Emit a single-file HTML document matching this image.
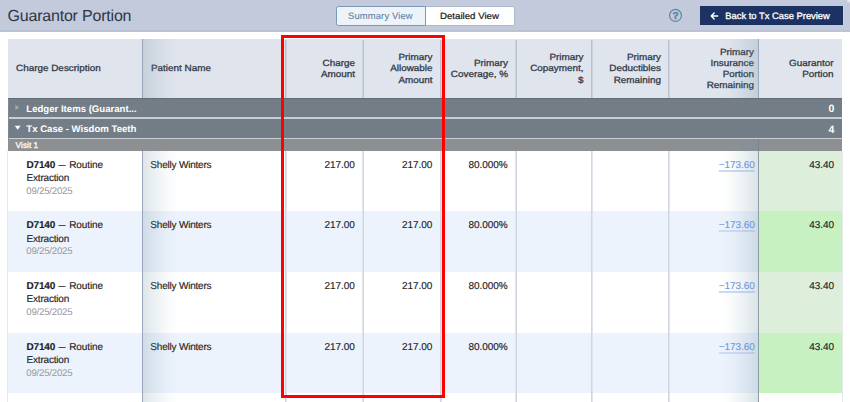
<!DOCTYPE html>
<html><head><meta charset="utf-8">
<style>
*{box-sizing:border-box;margin:0;padding:0}
html,body{width:850px;height:402px;overflow:hidden;background:#fff}
body{position:relative;font-family:"Liberation Sans",Arial,sans-serif;color:#222;text-rendering:geometricPrecision}
.a{position:absolute}
.t{position:absolute;white-space:nowrap;line-height:1}
.ht{position:absolute;font-size:9px;-webkit-text-stroke:0.28px #323a48;color:#323a48;line-height:11.3px;text-align:right;white-space:nowrap;transform:scaleX(1.1);transform-origin:right top}
.hl{text-align:left;transform-origin:left top}
.gt{font-size:9.6px;font-weight:bold;color:#fff}
.d{font-size:10px;letter-spacing:-0.2px;color:#1e1e1e;-webkit-text-stroke:0.15px #1e1e1e}
.dt{font-size:9.6px;letter-spacing:-0.2px;color:#97979b}
.n{position:absolute;font-size:10px;letter-spacing:-0.05px;color:#1e1e1e;-webkit-text-stroke:0.15px #1e1e1e;text-align:right;white-space:nowrap;line-height:1}
.lk{color:#6f95e4;-webkit-text-stroke:0.1px #6f95e4;text-decoration:underline;text-decoration-color:#cfdbf5;text-decoration-thickness:1.5px;text-underline-offset:2px}
</style></head><body>
<div class="a" style="left:0;top:0;width:850px;height:31.6px;background:linear-gradient(to bottom,#c2cadb 0,#c2cadb 29.6px,#b8c2d3 30.4px,#bcc5d6 31.6px)"></div>
<div class="t" style="left:7.5px;top:8.8px;font-size:16px;letter-spacing:-0.2px;color:#2e3646">Guarantor Portion</div>
<div class="a" style="left:336px;top:6px;width:89.5px;height:19.5px;background:#eef3fa;border:1px solid #7b99b4;border-radius:2.5px 0 0 2.5px"></div>
<div class="a" style="left:425.5px;top:6px;width:89px;height:19.5px;background:#fff;border:1px solid #adbacb;border-left:none;border-radius:0 2.5px 2.5px 0"></div>
<div class="t" style="left:348px;top:10.9px;font-size:9.4px;letter-spacing:0.16px;color:#5f84a5;-webkit-text-stroke:0.12px #5f84a5">Summary View</div>
<div class="t" style="left:439.8px;top:12.3px;font-size:9px;-webkit-text-stroke:0.22px #222;color:#222;transform:scaleX(1.075);transform-origin:left top">Detailed View</div>
<svg class="a" style="left:668px;top:8px" width="15" height="15" viewBox="0 0 15 15"><circle cx="7.5" cy="7.4" r="5.95" fill="none" stroke="#6489a8" stroke-width="1.3"/><text x="7.5" y="11.2" text-anchor="middle" font-family="Liberation Sans, sans-serif" font-weight="bold" font-size="10" fill="#5f86a6" stroke="#5f86a6" stroke-width="0.45">?</text></svg>
<div class="a" style="left:699.5px;top:6px;width:143px;height:19px;background:#1c3263"></div>
<svg class="a" style="left:709.8px;top:11.5px" width="9" height="8" viewBox="0 0 9 8"><path d="M4.1 1.1 L1.3 4 L4.1 6.9 M1.5 4 L7.6 4" stroke="#fff" stroke-width="1.5" fill="none" stroke-linecap="round" stroke-linejoin="round"/></svg>
<div class="t" style="left:725.3px;top:11px;font-size:9.4px;-webkit-text-stroke:0.3px #fff;color:#fff">Back to Tx Case Preview</div>
<div class="a" style="left:843px;top:6px;width:1.2px;height:19px;background:#cdd4e1"></div>
<div class="a" style="left:846px;top:-3px;width:7px;height:7px;border-radius:50%;background:radial-gradient(circle,rgba(255,255,255,0.8),rgba(255,255,255,0) 70%)"></div>
<div class="a" style="left:8px;top:39px;width:834px;height:59px;background:#e0e4ed"></div>
<div class="a" style="left:8px;top:150.6px;width:834px;height:60.8px;background:#fff"></div>
<div class="a" style="left:758.4px;top:150.6px;width:83.60000000000002px;height:60.8px;background:#ddefda"></div>
<div class="a" style="left:8px;top:211.3px;width:834px;height:60.8px;background:#edf3fd"></div>
<div class="a" style="left:758.4px;top:211.3px;width:83.60000000000002px;height:60.8px;background:#c8f1c2"></div>
<div class="a" style="left:8px;top:272.0px;width:834px;height:60.8px;background:#fff"></div>
<div class="a" style="left:758.4px;top:272.0px;width:83.60000000000002px;height:60.8px;background:#ddefda"></div>
<div class="a" style="left:8px;top:332.7px;width:834px;height:60.8px;background:#edf3fd"></div>
<div class="a" style="left:758.4px;top:332.7px;width:83.60000000000002px;height:60.8px;background:#c8f1c2"></div>
<div class="a" style="left:8px;top:393.4px;width:834px;height:8.600000000000023px;background:#fff"></div>
<div class="a" style="left:285px;top:40px;width:1px;height:57.599999999999994px;background:#b8c1d0"></div>
<div class="a" style="left:286px;top:40px;width:1px;height:57.599999999999994px;background:#cdd3de"></div>
<div class="a" style="left:285px;top:150.6px;width:1px;height:251.4px;background:#d1d7e2"></div>
<div class="a" style="left:286px;top:150.6px;width:1px;height:251.4px;background:#e0e4ec"></div>
<div class="a" style="left:363px;top:40px;width:1px;height:57.599999999999994px;background:#b8c1d0"></div>
<div class="a" style="left:362px;top:40px;width:1px;height:57.599999999999994px;background:#cdd3de"></div>
<div class="a" style="left:363px;top:150.6px;width:1px;height:251.4px;background:#d1d7e2"></div>
<div class="a" style="left:362px;top:150.6px;width:1px;height:251.4px;background:#e0e4ec"></div>
<div class="a" style="left:440px;top:40px;width:1px;height:57.599999999999994px;background:#b8c1d0"></div>
<div class="a" style="left:441px;top:40px;width:1px;height:57.599999999999994px;background:#cdd3de"></div>
<div class="a" style="left:440px;top:150.6px;width:1px;height:251.4px;background:#d1d7e2"></div>
<div class="a" style="left:441px;top:150.6px;width:1px;height:251.4px;background:#e0e4ec"></div>
<div class="a" style="left:516px;top:40px;width:1px;height:57.599999999999994px;background:#b8c1d0"></div>
<div class="a" style="left:515px;top:40px;width:1px;height:57.599999999999994px;background:#cdd3de"></div>
<div class="a" style="left:516px;top:150.6px;width:1px;height:251.4px;background:#d1d7e2"></div>
<div class="a" style="left:515px;top:150.6px;width:1px;height:251.4px;background:#e0e4ec"></div>
<div class="a" style="left:591px;top:40px;width:1px;height:57.599999999999994px;background:#b8c1d0"></div>
<div class="a" style="left:592px;top:40px;width:1px;height:57.599999999999994px;background:#cdd3de"></div>
<div class="a" style="left:591px;top:150.6px;width:1px;height:251.4px;background:#d1d7e2"></div>
<div class="a" style="left:592px;top:150.6px;width:1px;height:251.4px;background:#e0e4ec"></div>
<div class="a" style="left:668px;top:40px;width:1px;height:57.599999999999994px;background:#b8c1d0"></div>
<div class="a" style="left:669px;top:40px;width:1px;height:57.599999999999994px;background:#cdd3de"></div>
<div class="a" style="left:668px;top:150.6px;width:1px;height:251.4px;background:#d1d7e2"></div>
<div class="a" style="left:669px;top:150.6px;width:1px;height:251.4px;background:#e0e4ec"></div>
<div class="a" style="left:841.5px;top:150.6px;width:1px;height:252px;background:#e6e9f0"></div>
<div class="a" style="left:7px;top:150.6px;width:1px;height:252px;background:#e6e9ef"></div>
<div class="a" style="left:8px;top:97.6px;width:834px;height:1.2px;background:#646d76"></div>
<div class="a" style="left:8px;top:98.8px;width:834px;height:18.6px;background:#737d87"></div>
<div class="a" style="left:8px;top:117.4px;width:834px;height:1.6px;background:#c9ced4"></div>
<div class="a" style="left:8px;top:119px;width:834px;height:18.8px;background:#737d87"></div>
<div class="a" style="left:8px;top:137.8px;width:834px;height:1.5px;background:#c9ced4"></div>
<div class="a" style="left:8px;top:139.3px;width:834px;height:11.3px;background:#8d9093"></div>
<div class="a" style="left:8px;top:98.8px;width:1px;height:40.5px;background:#80898f"></div>
<div class="t gt" style="left:26.3px;top:104.5px">Ledger Items (Guarant...</div>
<div class="t gt" style="left:26.3px;top:125.1px">Tx Case - Wisdom Teeth</div>
<div class="t gt" style="right:15.6px;top:103.9px;font-size:10.6px">0</div>
<div class="t gt" style="right:15.6px;top:124.5px;font-size:10.6px">4</div>
<div class="t" style="left:15.6px;top:141.2px;font-size:8.4px;color:#fbfbfb;-webkit-text-stroke:0.3px #fbfbfb">Visit 1</div>
<svg class="a" style="left:15px;top:104px" width="6" height="7" viewBox="0 0 6 7"><path d="M0.4 0.7 L4.2 3.4 L0.4 6.1 Z" fill="#a2a9b1"/></svg>
<svg class="a" style="left:14px;top:125px" width="8" height="6" viewBox="0 0 8 6"><path d="M0.8 0.8 L6.6 0.8 L3.7 4.8 Z" fill="#fff"/></svg>
<div class="ht hl" style="left:16px;top:62.7px">Charge Description</div>
<div class="ht hl" style="left:151px;top:62.7px">Patient Name</div>
<div class="ht" style="right:494.8px;top:57.85px">Charge<br>Amount</div>
<div class="ht" style="right:417.5px;top:52.20px">Primary<br>Allowable<br>Amount</div>
<div class="ht" style="right:342.3px;top:57.85px">Primary<br>Coverage, %</div>
<div class="ht" style="right:266.4px;top:52.20px">Primary<br>Copayment,<br>$</div>
<div class="ht" style="right:189px;top:52.20px">Primary<br>Deductibles<br>Remaining</div>
<div class="ht" style="right:95.70000000000005px;top:46.55px">Primary<br>Insurance<br>Portion<br>Remaining</div>
<div class="ht" style="right:16px;top:57.85px">Guarantor<br>Portion</div>
<div class="t d" style="left:26.6px;top:160.50px"><b>D7140</b> <span style="display:inline-block;transform:scaleX(.7);margin:0 -0.6px 0 -0.3px">&mdash;</span> <span style="letter-spacing:-0.1px">Routine</span></div>
<div class="t d" style="left:26.6px;top:173.80px">Extraction</div>
<div class="t dt" style="left:26.3px;top:186.60px">09/25/2025</div>
<div class="t d" style="left:150.3px;top:160.50px">Shelly Winters</div>
<div class="n" style="right:495.2px;top:160.50px">217.00</div>
<div class="n" style="right:417.8px;top:160.50px">217.00</div>
<div class="n" style="right:342.3px;top:160.50px">80.000%</div>
<div class="n" style="right:16.100000000000023px;top:160.50px">43.40</div>
<div class="n lk" style="right:95.20000000000005px;top:160.50px">&minus;173.60</div>
<div class="t d" style="left:26.6px;top:221.20px"><b>D7140</b> <span style="display:inline-block;transform:scaleX(.7);margin:0 -0.6px 0 -0.3px">&mdash;</span> <span style="letter-spacing:-0.1px">Routine</span></div>
<div class="t d" style="left:26.6px;top:234.50px">Extraction</div>
<div class="t dt" style="left:26.3px;top:247.30px">09/25/2025</div>
<div class="t d" style="left:150.3px;top:221.20px">Shelly Winters</div>
<div class="n" style="right:495.2px;top:221.20px">217.00</div>
<div class="n" style="right:417.8px;top:221.20px">217.00</div>
<div class="n" style="right:342.3px;top:221.20px">80.000%</div>
<div class="n" style="right:16.100000000000023px;top:221.20px">43.40</div>
<div class="n lk" style="right:95.20000000000005px;top:221.20px">&minus;173.60</div>
<div class="t d" style="left:26.6px;top:281.90px"><b>D7140</b> <span style="display:inline-block;transform:scaleX(.7);margin:0 -0.6px 0 -0.3px">&mdash;</span> <span style="letter-spacing:-0.1px">Routine</span></div>
<div class="t d" style="left:26.6px;top:295.20px">Extraction</div>
<div class="t dt" style="left:26.3px;top:308.00px">09/25/2025</div>
<div class="t d" style="left:150.3px;top:281.90px">Shelly Winters</div>
<div class="n" style="right:495.2px;top:281.90px">217.00</div>
<div class="n" style="right:417.8px;top:281.90px">217.00</div>
<div class="n" style="right:342.3px;top:281.90px">80.000%</div>
<div class="n" style="right:16.100000000000023px;top:281.90px">43.40</div>
<div class="n lk" style="right:95.20000000000005px;top:281.90px">&minus;173.60</div>
<div class="t d" style="left:26.6px;top:342.60px"><b>D7140</b> <span style="display:inline-block;transform:scaleX(.7);margin:0 -0.6px 0 -0.3px">&mdash;</span> <span style="letter-spacing:-0.1px">Routine</span></div>
<div class="t d" style="left:26.6px;top:355.90px">Extraction</div>
<div class="t dt" style="left:26.3px;top:368.70px">09/25/2025</div>
<div class="t d" style="left:150.3px;top:342.60px">Shelly Winters</div>
<div class="n" style="right:495.2px;top:342.60px">217.00</div>
<div class="n" style="right:417.8px;top:342.60px">217.00</div>
<div class="n" style="right:342.3px;top:342.60px">80.000%</div>
<div class="n" style="right:16.100000000000023px;top:342.60px">43.40</div>
<div class="n lk" style="right:95.20000000000005px;top:342.60px">&minus;173.60</div>
<div class="a" style="left:143px;top:39px;width:36px;height:58.599999999999994px;background:linear-gradient(to right,rgba(110,148,165,0.24),rgba(110,148,165,0.17) 22%,rgba(110,148,165,0.09) 50%,rgba(110,148,165,0.03) 75%,rgba(110,148,165,0))"></div>
<div class="a" style="left:141.9px;top:39px;width:1.2px;height:58.599999999999994px;background:#97a3b8"></div>
<div class="a" style="left:143px;top:150.6px;width:36px;height:251.4px;background:linear-gradient(to right,rgba(110,148,165,0.24),rgba(110,148,165,0.17) 22%,rgba(110,148,165,0.09) 50%,rgba(110,148,165,0.03) 75%,rgba(110,148,165,0))"></div>
<div class="a" style="left:141.9px;top:150.6px;width:1.2px;height:251.4px;background:#9aa5bb"></div>
<div class="a" style="left:720px;top:39px;width:38px;height:58.599999999999994px;background:linear-gradient(to left,rgba(110,148,165,0.26),rgba(110,148,165,0.18) 22%,rgba(110,148,165,0.09) 50%,rgba(110,148,165,0.03) 75%,rgba(110,148,165,0))"></div>
<div class="a" style="left:757.9px;top:39px;width:1.2px;height:58.599999999999994px;background:#9ba7ba"></div>
<div class="a" style="left:720px;top:139.3px;width:38px;height:11.299999999999983px;background:linear-gradient(to left,rgba(110,148,165,0.26),rgba(110,148,165,0.18) 22%,rgba(110,148,165,0.09) 50%,rgba(110,148,165,0.03) 75%,rgba(110,148,165,0))"></div>
<div class="a" style="left:757.9px;top:139.3px;width:1.2px;height:11.299999999999983px;background:#7b858d"></div>
<div class="a" style="left:720px;top:150.6px;width:38px;height:251.4px;background:linear-gradient(to left,rgba(110,148,165,0.26),rgba(110,148,165,0.18) 22%,rgba(110,148,165,0.09) 50%,rgba(110,148,165,0.03) 75%,rgba(110,148,165,0))"></div>
<div class="a" style="left:757.9px;top:150.6px;width:1.2px;height:251.4px;background:#8b9ca5"></div>
<div class="a" style="left:281px;top:35px;width:164px;height:363px;border:3px solid #ff0000"></div>
</body></html>
